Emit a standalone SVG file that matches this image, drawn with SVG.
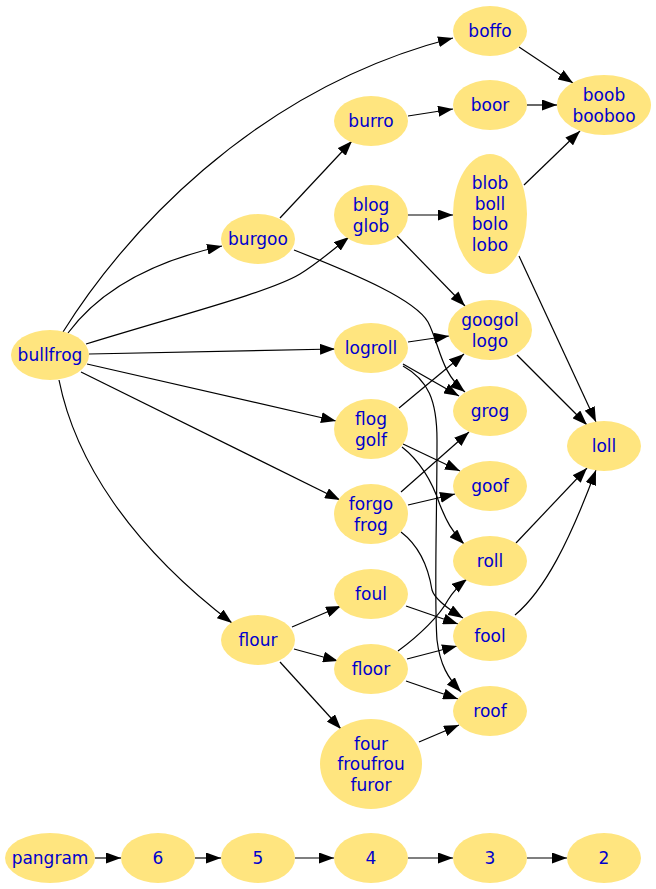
<svg xmlns="http://www.w3.org/2000/svg" width="656" height="889" viewBox="0 0 656 889">
<style>
.n ellipse{fill:#FFE57F;stroke:none}
.n text{font-family:"DejaVu Sans",sans-serif;font-size:17px;fill:#0000CD;text-anchor:middle}
.e path{fill:none;stroke:#000;stroke-width:1.2;marker-end:url(#ah)}
</style>
<defs>
<marker id="ah" viewBox="0 0 15 11" refX="15" refY="5.5" markerWidth="15" markerHeight="11" markerUnits="userSpaceOnUse" orient="auto"><path d="M0,0 L15,5.5 L0,11 z" fill="#000"/></marker>
</defs>
<rect width="656" height="889" fill="#fff"/>
<g id="edges" class="e">
<path d="M63,332 C120,240 250,90 453,38"/>
<path d="M68,333 C100,290 150,262 222,246"/>
<path d="M86,344 C180,315 270,292 300,274 C318,263 334,249 349,237"/>
<path d="M89,354 L335,349"/>
<path d="M87,364 L336,421"/>
<path d="M81,372 L340,500"/>
<path d="M59,380 C75,460 130,545 232,623"/>
<path d="M280,218 L352,141"/>
<path d="M408,116 L453,109"/>
<path d="M527,105 L557,105"/>
<path d="M519,47 L573,83"/>
<path d="M524,185 L580,131"/>
<path d="M408,215 L453,215"/>
<path d="M397,236 L465,306"/>
<path d="M519,256 L596,422"/>
<path d="M517,355 L587,425"/>
<path d="M294,250 C360,276 415,300 428,322 C440,345 440,372 465,392"/>
<path d="M408,342 L449,336"/>
<path d="M403,364 L459,396"/>
<path d="M403,366 C428,380 437,400 437,440 C437,520 434,600 437,640 C440,665 448,678 461,692"/>
<path d="M399,408 L464,354"/>
<path d="M403,444 L460,471"/>
<path d="M402,447 C425,465 435,490 440,505 C446,520 452,532 464,544"/>
<path d="M401,492 L469,432"/>
<path d="M408,505 L455,494"/>
<path d="M401,532 C418,545 428,565 432,590 C434,597 445,607 463,618"/>
<path d="M516,543 L587,468"/>
<path d="M515,615 C545,590 570,540 596,470"/>
<path d="M292,627 L341,606"/>
<path d="M294,649 L338,661"/>
<path d="M280,662 L341,729"/>
<path d="M406,606 L458,624"/>
<path d="M398,651 C420,635 440,615 448,600 C453,592 458,586 467,579"/>
<path d="M407,659 L457,646"/>
<path d="M406,681 L458,699"/>
<path d="M419,742 L459,725"/>
<path d="M95,858 L121,858"/>
<path d="M195,858 L221,858"/>
<path d="M295,858 L334,858"/>
<path d="M408,858 L453,858"/>
<path d="M527,858 L567,858"/>
</g>
<g id="boffo" class="n"><ellipse cx="490" cy="31" rx="37" ry="25"/><text x="490" y="37">boffo</text></g>
<g id="boob" class="n"><ellipse cx="604" cy="105" rx="47" ry="30"/><text x="604" y="101">boob</text><text x="604" y="121.5">booboo</text></g>
<g id="burro" class="n"><ellipse cx="371" cy="121" rx="37" ry="25"/><text x="371" y="127">burro</text></g>
<g id="boor" class="n"><ellipse cx="490" cy="105" rx="37" ry="25"/><text x="490" y="111">boor</text></g>
<g id="blob" class="n"><ellipse cx="490" cy="214" rx="37" ry="60"/><text x="490" y="189">blob</text><text x="490" y="209.5">boll</text><text x="490" y="230">bolo</text><text x="490" y="250.5">lobo</text></g>
<g id="blog" class="n"><ellipse cx="371" cy="215" rx="37" ry="30"/><text x="371" y="211">blog</text><text x="371" y="231.5">glob</text></g>
<g id="burgoo" class="n"><ellipse cx="258" cy="239" rx="37" ry="25"/><text x="258" y="245">burgoo</text></g>
<g id="bullfrog" class="n"><ellipse cx="50" cy="355" rx="39" ry="25"/><text x="50" y="361">bullfrog</text></g>
<g id="googol" class="n"><ellipse cx="490" cy="330" rx="42" ry="30"/><text x="490" y="326">googol</text><text x="490" y="346.5">logo</text></g>
<g id="logroll" class="n"><ellipse cx="371" cy="348" rx="37" ry="25"/><text x="371" y="354">logroll</text></g>
<g id="grog" class="n"><ellipse cx="490" cy="411" rx="37" ry="25"/><text x="490" y="417">grog</text></g>
<g id="loll" class="n"><ellipse cx="604" cy="446" rx="37" ry="25"/><text x="604" y="452">loll</text></g>
<g id="flog" class="n"><ellipse cx="371" cy="429" rx="37" ry="30"/><text x="371" y="425">flog</text><text x="371" y="445.5">golf</text></g>
<g id="goof" class="n"><ellipse cx="490" cy="486" rx="37" ry="25"/><text x="490" y="492">goof</text></g>
<g id="forgo" class="n"><ellipse cx="371" cy="514" rx="37" ry="30"/><text x="371" y="510">forgo</text><text x="371" y="530.5">frog</text></g>
<g id="roll" class="n"><ellipse cx="490" cy="561" rx="37" ry="25"/><text x="490" y="567">roll</text></g>
<g id="foul" class="n"><ellipse cx="371" cy="594" rx="37" ry="25"/><text x="371" y="600">foul</text></g>
<g id="fool" class="n"><ellipse cx="490" cy="636" rx="37" ry="25"/><text x="490" y="642">fool</text></g>
<g id="flour" class="n"><ellipse cx="258" cy="640" rx="37" ry="25"/><text x="258" y="646">flour</text></g>
<g id="floor" class="n"><ellipse cx="371" cy="669" rx="37" ry="25"/><text x="371" y="675">floor</text></g>
<g id="roof" class="n"><ellipse cx="490" cy="711" rx="37" ry="25"/><text x="490" y="717">roof</text></g>
<g id="four" class="n"><ellipse cx="371" cy="764" rx="51" ry="45"/><text x="371" y="749.5">four</text><text x="371" y="770">froufrou</text><text x="371" y="790.5">furor</text></g>
<g id="pangram" class="n"><ellipse cx="50" cy="858" rx="45" ry="25"/><text x="50" y="864">pangram</text></g>
<g id="n6" class="n"><ellipse cx="158" cy="858" rx="37" ry="25"/><text x="158" y="864">6</text></g>
<g id="n5" class="n"><ellipse cx="258" cy="858" rx="37" ry="25"/><text x="258" y="864">5</text></g>
<g id="n4" class="n"><ellipse cx="371" cy="858" rx="37" ry="25"/><text x="371" y="864">4</text></g>
<g id="n3" class="n"><ellipse cx="490" cy="858" rx="37" ry="25"/><text x="490" y="864">3</text></g>
<g id="n2" class="n"><ellipse cx="604" cy="858" rx="37" ry="25"/><text x="604" y="864">2</text></g>
</svg>
